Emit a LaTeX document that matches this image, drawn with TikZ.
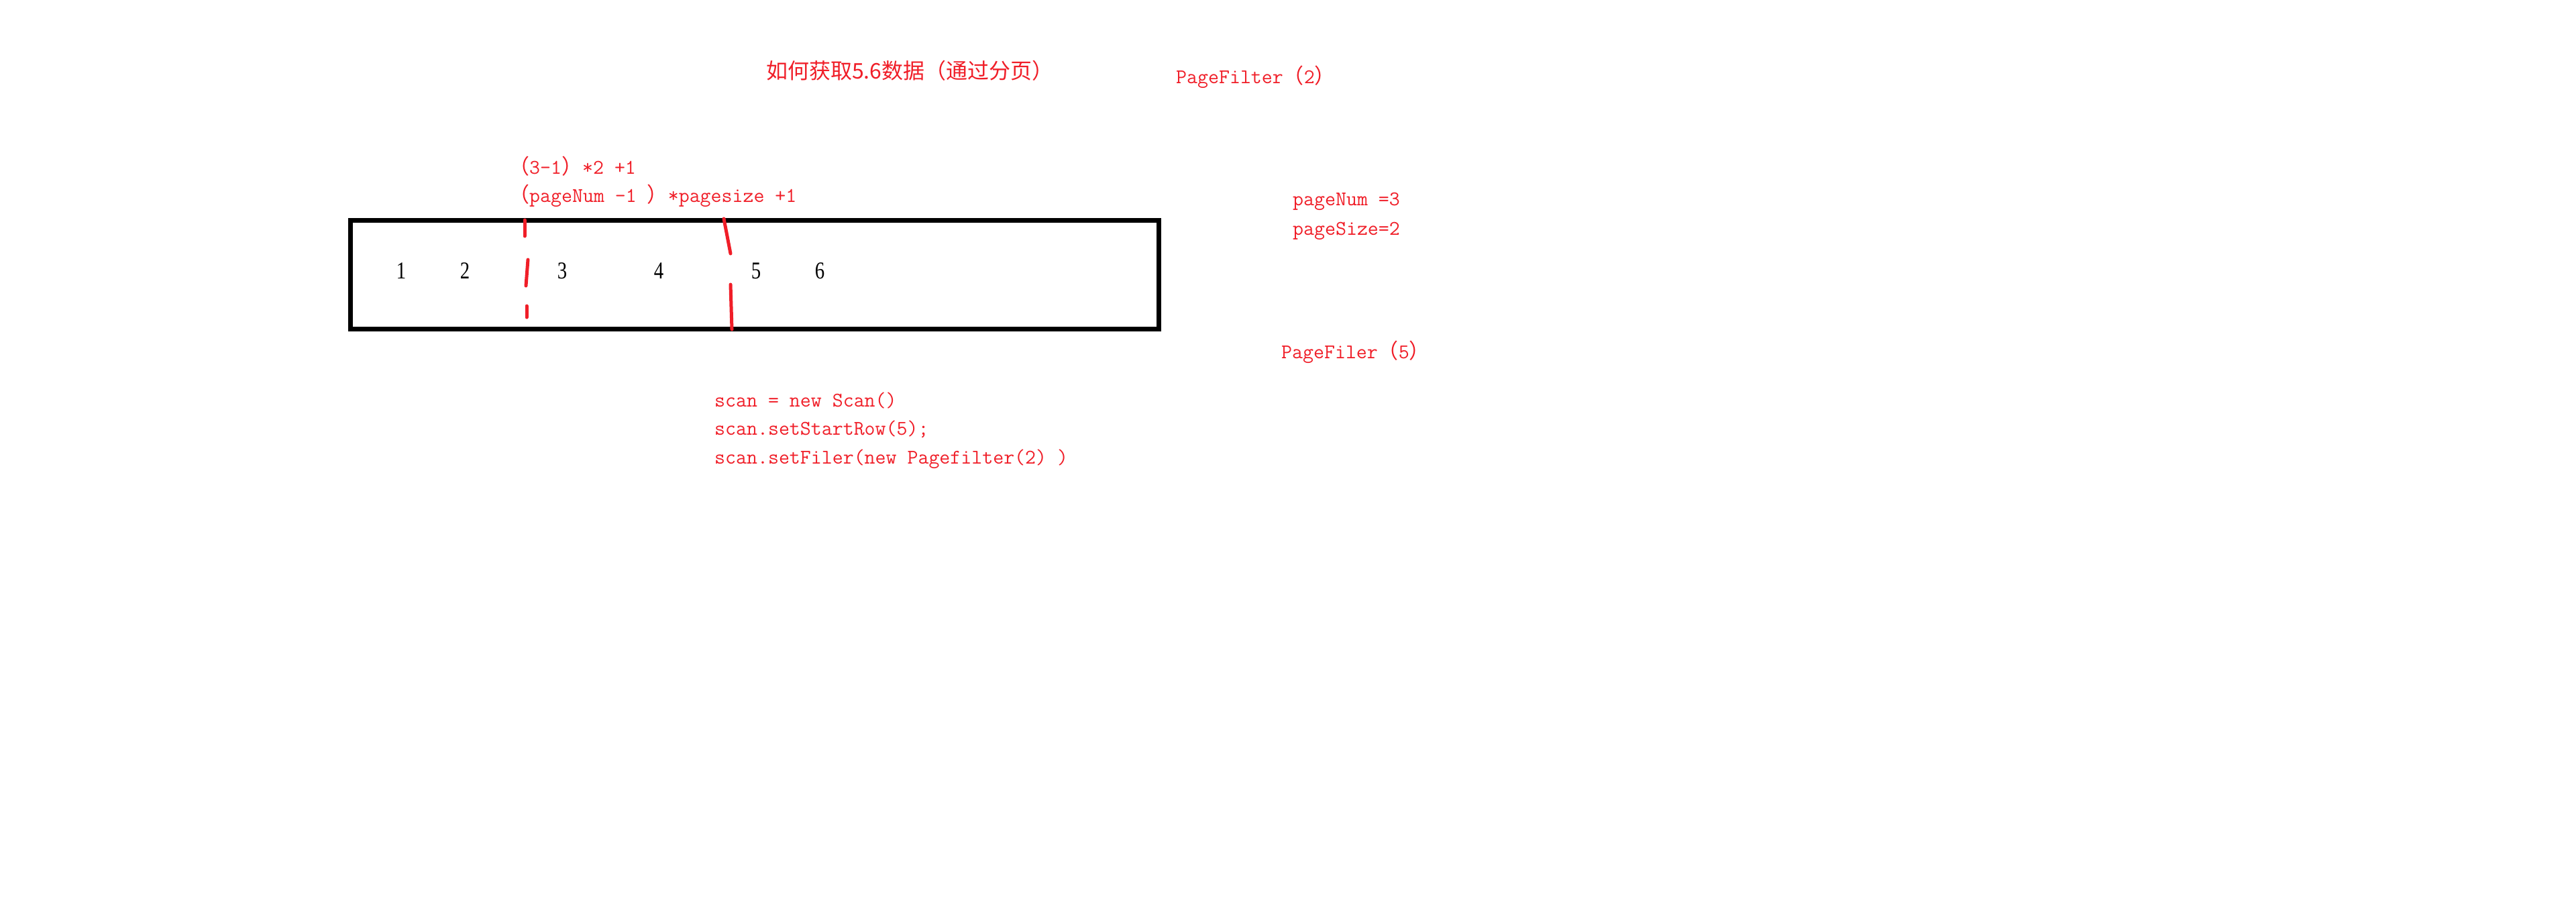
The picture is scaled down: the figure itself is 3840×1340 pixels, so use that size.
\documentclass[tikz,border=0pt]{standalone}
\usepackage{fontspec}
\setmonofont{Latin Modern Mono}
\newfontfamily\cjk{Noto Sans CJK SC}
\newfontfamily\digs{Liberation Serif}[FakeStretch=0.8]
\definecolor{redink}{RGB}{240,30,40}
\newcommand\fwl{{\cjk （}}
\newcommand\fwr{{\cjk ）}}
\tikzset{
  rtxt/.style={text=redink, font=\ttfamily\fontsize{31}{44}\selectfont, anchor=west, inner sep=0pt},
  ctxt/.style={text=redink, font=\cjk\fontsize{32}{40}\selectfont, anchor=west, inner sep=0pt},
  num/.style={text=black, font=\digs\fontsize{36}{40}\selectfont, inner sep=0pt},
  cut/.style={draw=redink, line width=5pt, line cap=round},
  frame/.style={draw=black, line width=7pt}
}
\begin{document}
\begin{tikzpicture}[x=1pt,y=-1pt]
\useasboundingbox (0,0) rectangle (3840,1340);
\fill[white] (0,0) rectangle (3840,1340);
% title
\node[ctxt] (title) at (1142,105) {如何获取5.6数据（通过分页）};
\node[rtxt] (pf2) at (1753,115) {PageFilter\fwl 2\fwr};
% formulas
\node[rtxt] (f1) at (758,248) {\fwl 3-1\fwr *2 +1};
\node[rtxt] (f2) at (758,292) {\fwl pageNum -1 \fwr *pagesize +1};
% box
\draw[frame] (522,328) rectangle (1727,490);
\node[num] (n1) at (598,404) {1};
\node[num] (n2) at (693,404) {2};
\node[num] (n3) at (838,404) {3};
\node[num] (n4) at (982,404) {4};
\node[num] (n5) at (1127,404) {5};
\node[num] (n6) at (1222,404) {6};
% red cut lines
\draw[cut] (782,328) -- (782,352);
\draw[cut] (787,387) -- (784,426);
\draw[cut] (785,456) -- (785,473);
\draw[cut] (1079,326) -- (1089,378);
\draw[cut] (1089,424) -- (1091,491);
% code
\node[rtxt] (c1) at (1065,597) {scan = new Scan()};
\node[rtxt] (c2) at (1065,640) {scan.setStartRow(5);};
\node[rtxt] (c3) at (1065,684) {scan.setFiler(new Pagefilter(2) )};
% right side
\node[rtxt] (pn) at (1927,300) {pageNum =3};
\node[rtxt] (ps) at (1927,344) {pageSize=2};
\node[rtxt] (pf5) at (1910,525) {PageFiler\fwl 5\fwr};
\end{tikzpicture}
\end{document}
